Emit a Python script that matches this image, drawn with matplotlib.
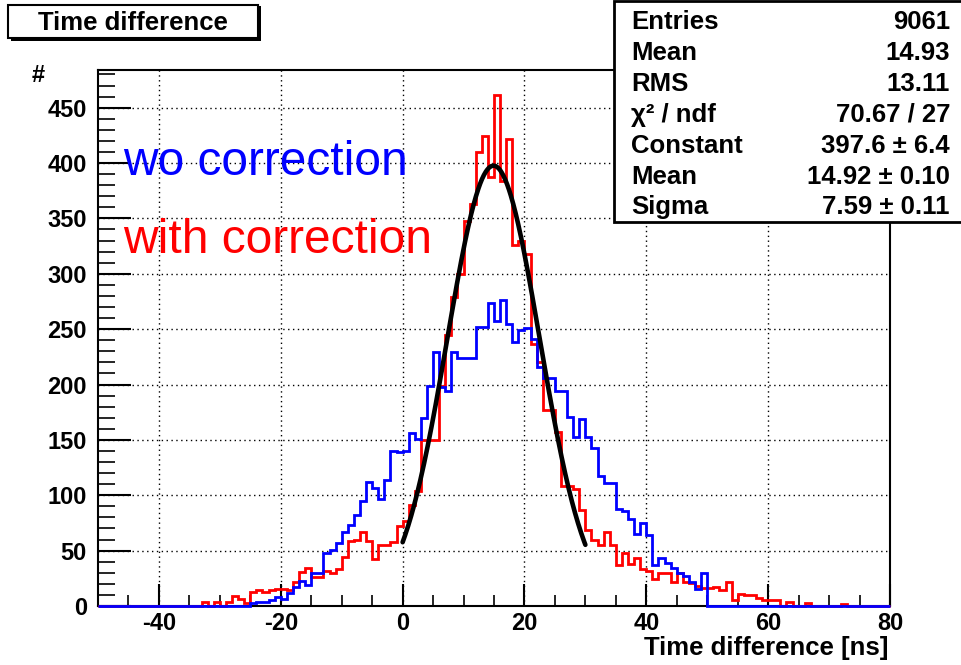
import numpy as np
import matplotlib
matplotlib.use("Agg")
import matplotlib.pyplot as plt
from matplotlib.patches import Rectangle
from matplotlib.ticker import MultipleLocator

# ---------------- data ----------------
bin_low = -50
bin_high = 80
edges = np.arange(bin_low, bin_high + 1, 1)

# counts per 1 ns bin, starting at -50 ns  (with correction)
red_counts = (
    [0] * 17 +                                   # -50 .. -34
    [4, 0, 4, 0, 4, 9, 6, 3, 13, 14, 13, 14, 15, 15, 14, 22, 31, 34,
     26, 26, 32, 30, 33, 44, 59, 60, 67, 59, 42, 55, 55, 58, 72] +   # -33 .. -1
    [77, 91, 104, 150, 150, 150, 199, 245, 279, 300, 348, 363, 410, 424,
     387, 461, 384, 422, 326, 330, 318, 237, 220, 177, 177, 157, 108, 108,
     106, 87, 69, 60, 55, 67, 55, 37, 48, 38, 43, 33, 32, 24, 30, 30, 22,
     30, 22, 21, 18, 16, 16, 17, 14, 22, 5, 11, 10, 10, 7, 5, 5, 5, 0, 4,
     0, 0, 3, 0, 0, 0, 0, 0, 2, 0, 0, 0, 0, 0, 0, 0]              # 0 .. 79
)

# counts per 1 ns bin, starting at -50 ns  (without correction)
blue_counts = (
    [0] * 25 +                                   # -50 .. -26
    [3, 4, 4, 5, 8, 6, 12, 17, 23, 19, 30, 30, 48, 51, 57, 67, 73, 82,
     95, 112, 107, 97, 114, 140, 139] +                               # -25 .. -1
    [140, 156, 151, 170, 199, 229, 198, 194, 229, 224, 224, 224, 252, 252,
     274, 257, 276, 255, 238, 249, 251, 241, 216, 206, 206, 194, 194, 171,
     153, 169, 153, 143, 117, 111, 111, 88, 86, 79, 65, 75, 64, 37, 43, 39,
     34, 30, 27, 22, 15, 30] + [0] * 30                               # 0 .. 79
)

# gaussian fit parameters (from stats box)
fit_const = 397.6
fit_mean = 14.92
fit_sigma = 7.59
fit_range = (0.0, 30.0)

stats_labels = ["Entries", "Mean", "RMS", "\u03c7\u00b2 / ndf", "Constant", "Mean", "Sigma"]
stats_values = ["9061", "14.93", "13.11", "70.67 / 27", "397.6 \u00b1 6.4",
                "14.92 \u00b1 0.10", "7.59 \u00b1 0.11"]

title_text = "Time difference"
xlabel_text = "Time difference [ns]"
ylabel_text = "#"
legend_texts = ["wo correction", "with correction"]
legend_colors = ["#0000ff", "#ff0000"]

# ---------------- figure ----------------
plt.rcParams['font.family'] = ['Liberation Sans', 'DejaVu Sans']
plt.rcParams['axes.unicode_minus'] = False

W, H = 961, 665
fig = plt.figure(figsize=(W / 100, H / 100), dpi=100)

def fx(px):
    return px / W

def fy(py):
    return 1 - py / H

ax_l, ax_r, ax_t, ax_b = 98, 890, 70, 606
ax = fig.add_axes([fx(ax_l), fy(ax_b), (ax_r - ax_l) / W, (ax_b - ax_t) / H])

ax.stairs(red_counts, edges, color="#ff0000", lw=2.0, zorder=3, clip_on=False)
ax.stairs(blue_counts, edges, color="#0000ff", lw=2.0, zorder=4, clip_on=False)

xf = np.linspace(fit_range[0], fit_range[1], 300)
yf = fit_const * np.exp(-0.5 * ((xf - fit_mean) / fit_sigma) ** 2)
ax.plot(xf, yf, color="black", lw=3.3, zorder=5, solid_capstyle="round")

ax.set_xlim(bin_low, bin_high)
ax.set_ylim(0, 484)

ax.xaxis.set_major_locator(MultipleLocator(20))
ax.xaxis.set_minor_locator(MultipleLocator(5))
ax.yaxis.set_major_locator(MultipleLocator(50))
ax.yaxis.set_minor_locator(MultipleLocator(10))

ax.tick_params(axis="x", which="major", direction="in", length=16, width=1.5,
               labelsize=17, pad=4, top=False)
ax.tick_params(axis="x", which="minor", direction="in", length=8, width=1.2, top=False)
ax.tick_params(axis="y", which="major", direction="in", length=24, width=1.5,
               labelsize=17, pad=8, right=False)
ax.tick_params(axis="y", which="minor", direction="in", length=12, width=1.2, right=False)

for lab in ax.get_xticklabels() + ax.get_yticklabels():
    lab.set_fontweight("bold")

ax.grid(True, which="major", color="black", linestyle=(0, (1, 2.5)), lw=1.0, zorder=1)

for s in ax.spines.values():
    s.set_linewidth(1.5)

# axis titles
fig.text(fx(888), fy(648), xlabel_text, ha="right", va="center",
         fontsize=18.5, fontweight="bold")
fig.text(fx(38), fy(76), ylabel_text, ha="center", va="center",
         fontsize=17, fontweight="bold")

# legend texts
ax.text(0.032, 0.827, legend_texts[0], transform=ax.transAxes, color=legend_colors[0],
        fontsize=34.5, ha="left", va="center")
ax.text(0.032, 0.682, legend_texts[1], transform=ax.transAxes, color=legend_colors[1],
        fontsize=34.5, ha="left", va="center")

# title box with shadow
shadow = Rectangle((fx(11), fy(41)), (258 - 8) / W, (41 - 6) / H, transform=fig.transFigure,
                   facecolor="black", edgecolor="none", zorder=1)
box = Rectangle((fx(8), fy(38)), (258 - 8) / W, (38 - 5) / H, transform=fig.transFigure,
                facecolor="white", edgecolor="black", lw=1.5, zorder=2)
fig.patches.extend([shadow, box])
fig.text(fx(133), fy(23), title_text, ha="center", va="center",
         fontsize=18.5, fontweight="bold", zorder=3)

# stats box
sbox = Rectangle((fx(614), fy(222)), (963 - 614) / W, (222 - 1) / H, transform=fig.transFigure,
                 facecolor="white", edgecolor="black", lw=2.0, zorder=2)
fig.patches.append(sbox)
row_y = [22, 53, 84, 115, 146, 177, 207]
for lab, val, yy in zip(stats_labels, stats_values, row_y):
    fig.text(fx(631), fy(yy), lab, ha="left", va="center", fontsize=18.5,
             fontweight="bold", zorder=3)
    fig.text(fx(950), fy(yy), val, ha="right", va="center", fontsize=18.5,
             fontweight="bold", zorder=3)

fig.savefig("out.png", dpi=100, facecolor="white")
